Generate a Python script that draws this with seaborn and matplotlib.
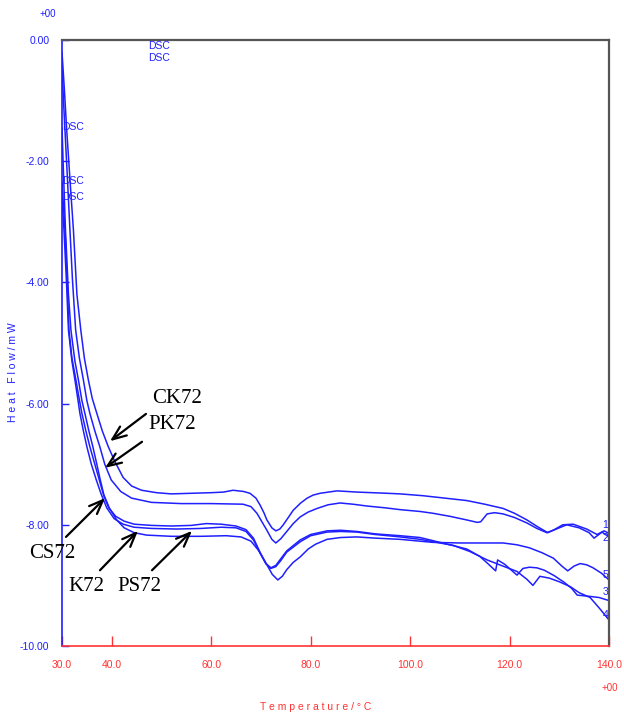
import matplotlib
matplotlib.use("Agg")
import matplotlib.pyplot as plt
import seaborn as sns
import pandas as pd

# ---- data ----
T1 = [30.0, 30.5, 30.95, 31.6, 32.3, 33.0, 33.8, 34.5, 35.3, 36.1, 37.0, 38.1, 39.3, 40.6, 42.3, 44.0, 46.0, 49.0, 52.0, 56.0, 60.0, 62.5, 64.4, 66.5, 67.8, 69.0, 69.8, 70.6, 71.2, 72.2, 73.0, 73.8, 74.5, 75.5, 76.5, 78.0, 79.3, 80.5, 81.9, 85.3, 89.3, 95.4, 98.0, 102.6, 107.0, 111.4, 115.0, 118.7, 121.0, 123.5, 125.8, 127.7, 129.0, 130.7, 132.8, 135.5, 137.6, 139.0, 140.0]
H1 = [-0.20, -0.85, -1.49, -2.30, -3.14, -4.20, -4.80, -5.25, -5.61, -5.92, -6.16, -6.45, -6.71, -6.95, -7.22, -7.36, -7.43, -7.47, -7.49, -7.48, -7.47, -7.46, -7.43, -7.45, -7.48, -7.56, -7.67, -7.80, -7.92, -8.05, -8.10, -8.07, -8.00, -7.88, -7.76, -7.64, -7.56, -7.51, -7.48, -7.44, -7.46, -7.48, -7.49, -7.52, -7.56, -7.60, -7.66, -7.73, -7.81, -7.92, -8.04, -8.13, -8.08, -8.00, -7.99, -8.07, -8.16, -8.10, -8.14]

T2 = [30.0, 30.3, 30.6, 31.1, 31.6, 32.1, 32.75, 33.5, 34.3, 35.0, 35.6, 36.6, 37.6, 38.6, 39.9, 41.8, 44.0, 48.0, 54.0, 60.0, 66.4, 68.0, 69.2, 70.2, 71.2, 72.2, 73.0, 74.0, 75.2, 76.5, 77.9, 79.5, 81.3, 83.5, 85.9, 88.5, 91.3, 95.0, 98.0, 102.0, 104.6, 108.0, 111.4, 113.5, 114.2, 115.5, 117.0, 118.7, 121.0, 123.5, 125.5, 127.5, 128.8, 130.0, 131.5, 134.0, 136.0, 137.0, 138.6, 140.0]
H2 = [-0.40, -1.00, -1.49, -2.30, -3.14, -3.95, -4.79, -5.25, -5.61, -5.95, -6.16, -6.45, -6.71, -7.00, -7.26, -7.45, -7.56, -7.63, -7.65, -7.65, -7.66, -7.70, -7.81, -7.95, -8.09, -8.24, -8.30, -8.23, -8.11, -7.98, -7.87, -7.79, -7.73, -7.67, -7.64, -7.66, -7.69, -7.72, -7.75, -7.78, -7.81, -7.86, -7.92, -7.96, -7.95, -7.82, -7.80, -7.82, -7.88, -7.97, -8.06, -8.13, -8.09, -8.05, -8.00, -8.05, -8.13, -8.22, -8.12, -8.20]

T3 = [30.0, 30.3, 30.6, 31.0, 31.4, 32.0, 32.8, 33.3, 34.0, 34.8, 35.6, 36.6, 37.5, 38.4, 39.4, 40.8, 42.5, 44.5, 48.0, 52.0, 56.0, 59.0, 62.0, 65.0, 67.0, 68.5, 69.8, 71.0, 72.0, 73.0, 74.0, 75.2, 77.9, 80.0, 83.3, 86.0, 89.3, 93.0, 98.0, 102.0, 106.0, 109.0, 111.4, 114.0, 115.5, 117.2, 117.6, 119.0, 121.5, 122.7, 124.0, 125.5, 127.0, 129.0, 131.0, 132.5, 133.6, 136.0, 138.0, 140.0]
H3 = [-2.35, -2.75, -3.14, -3.90, -4.79, -5.25, -5.61, -5.85, -6.16, -6.45, -6.71, -7.00, -7.26, -7.52, -7.72, -7.86, -7.94, -7.99, -8.01, -8.02, -8.01, -7.98, -7.99, -8.02, -8.08, -8.22, -8.45, -8.64, -8.71, -8.67, -8.56, -8.43, -8.25, -8.16, -8.10, -8.09, -8.11, -8.15, -8.18, -8.21, -8.29, -8.35, -8.40, -8.52, -8.63, -8.76, -8.58, -8.65, -8.83, -8.72, -8.70, -8.71, -8.75, -8.84, -8.95, -9.05, -9.16, -9.18, -9.20, -9.25]

T4 = [30.0, 30.4, 30.9, 31.3, 32.0, 32.6, 33.1, 33.6, 34.3, 35.0, 35.9, 36.9, 37.9, 39.0, 40.5, 42.3, 44.5, 48.0, 53.0, 58.0, 62.0, 65.0, 67.0, 68.5, 69.8, 71.0, 72.0, 73.0, 74.0, 75.2, 77.9, 80.0, 83.3, 86.0, 89.3, 93.0, 98.0, 102.0, 106.0, 108.7, 112.0, 115.5, 118.0, 121.5, 123.5, 124.7, 126.1, 128.0, 130.0, 132.2, 134.0, 136.2, 138.0, 140.0]
H4 = [-2.60, -3.14, -4.00, -4.79, -5.30, -5.61, -5.88, -6.16, -6.45, -6.71, -7.00, -7.26, -7.50, -7.72, -7.90, -7.99, -8.04, -8.06, -8.07, -8.06, -8.04, -8.05, -8.11, -8.25, -8.46, -8.64, -8.72, -8.69, -8.59, -8.45, -8.28, -8.18, -8.12, -8.11, -8.12, -8.16, -8.20, -8.24, -8.30, -8.34, -8.44, -8.58, -8.66, -8.77, -8.90, -9.00, -8.85, -8.88, -8.94, -9.02, -9.12, -9.20, -9.37, -9.57]

T5 = [30.0, 30.3, 30.7, 31.3, 31.8, 32.6, 33.3, 34.0, 34.6, 35.4, 36.2, 37.0, 37.7, 38.4, 39.5, 41.0, 42.5, 44.5, 47.0, 52.0, 58.0, 63.0, 66.0, 68.0, 69.5, 71.0, 72.3, 73.4, 74.3, 75.2, 76.5, 77.9, 79.5, 81.0, 83.3, 86.0, 89.3, 93.0, 98.0, 104.6, 110.0, 114.0, 118.7, 121.5, 124.0, 126.5, 128.8, 130.5, 131.7, 133.0, 134.2, 135.5, 136.8, 138.5, 140.0]
H5 = [-1.45, -2.20, -3.14, -4.20, -4.79, -5.30, -5.61, -5.95, -6.16, -6.45, -6.71, -7.00, -7.26, -7.50, -7.72, -7.92, -8.05, -8.13, -8.17, -8.19, -8.19, -8.18, -8.20, -8.27, -8.42, -8.63, -8.82, -8.91, -8.85, -8.74, -8.62, -8.53, -8.40, -8.32, -8.24, -8.21, -8.20, -8.22, -8.24, -8.29, -8.30, -8.30, -8.30, -8.33, -8.38, -8.46, -8.55, -8.68, -8.76, -8.68, -8.64, -8.66, -8.71, -8.80, -8.91]

curve_ids = ["1", "2", "3", "4", "5"]
end_label_y = [-8.00, -8.22, -9.11, -9.49, -8.83]

sample_names = ["CK72", "PK72", "CS72", "K72", "PS72"]
sample_text_xy = [(48.10, -5.92), (47.29, -6.35), (23.36, -8.48), (31.21, -9.01), (41.06, -9.01)]
arrow_tail = [(46.89, -6.17), (46.09, -6.63), (30.80, -8.20), (37.64, -8.75), (48.10, -8.75)]
arrow_head = [(39.65, -6.62), (38.65, -7.06), (38.65, -7.56), (45.28, -8.10), (56.14, -8.10)]

dsc_xy = [(47.3, -0.095), (47.3, -0.30), (30.0, -1.44), (30.0, -2.33), (30.0, -2.59)]

x_ticks = [30, 40, 60, 80, 100, 120, 140]
x_ticklabels = ["30.0", "40.0", "60.0", "80.0", "100.0", "120.0", "140.0"]
y_ticks = [0, -2, -4, -6, -8, -10]
y_ticklabels = ["0.00", "-2.00", "-4.00", "-6.00", "-8.00", "-10.00"]

# ---- build table ----
frames = []
for cid, T, H in zip(curve_ids, [T1, T2, T3, T4, T5], [H1, H2, H3, H4, H5]):
    frames.append(pd.DataFrame({"T": T, "H": H, "curve": cid}))
df = pd.concat(frames, ignore_index=True)

sns.set_style("white")
plt.rcParams["font.family"] = ["Liberation Sans", "DejaVu Sans"]

BLUE = "#1f1fff"
RED = "#ff3333"

fig = plt.figure(figsize=(6.24, 7.16), dpi=100)
ax = fig.add_axes([62 / 624, 1 - 646 / 716, 547 / 624, 606 / 716])

sns.lineplot(data=df, x="T", y="H", hue="curve", units="curve", estimator=None,
             palette=[BLUE] * 5, sort=False, legend=False, lw=1.1, ax=ax)

ax.set_xlim(30, 140)
ax.set_ylim(-10, 0)
ax.set_xticks(x_ticks)
ax.set_xticklabels(x_ticklabels)
ax.set_yticks(y_ticks)
ax.set_yticklabels(y_ticklabels)
ax.set_xlabel("")
ax.set_ylabel("")

ax.tick_params(axis="x", direction="in", length=7, width=1, colors=RED, bottom=True,
               labelsize=7.5, pad=10, labelcolor=RED)
ax.tick_params(axis="y", direction="in", length=5, width=1, colors=BLUE, left=True,
               labelsize=7.5, pad=9, labelcolor=BLUE)

for side in ["top", "right"]:
    ax.spines[side].set_color("#555555")
    ax.spines[side].set_linewidth(1.6)
ax.spines["left"].set_color(BLUE)
ax.spines["left"].set_linewidth(1.2)
ax.spines["bottom"].set_color(RED)
ax.spines["bottom"].set_linewidth(1.2)

# curve end labels
for cid, yv in zip(curve_ids, end_label_y):
    ax.text(139.3, yv, cid, color=BLUE, fontsize=7.5, ha="center", va="center")

# DSC labels
for (xx, yy) in dsc_xy:
    ax.text(xx, yy, "DSC", color=BLUE, fontsize=7.5, ha="left", va="center")

# sample annotations
for name, txy, tail, head in zip(sample_names, sample_text_xy, arrow_tail, arrow_head):
    ax.text(txy[0], txy[1], name, fontsize=15, family=["Liberation Serif", "DejaVu Serif"],
            ha="left", va="center", color="black", clip_on=False)
    ax.annotate("", xy=head, xytext=tail, annotation_clip=False,
                arrowprops=dict(arrowstyle="->,head_length=1.0,head_width=0.4",
                                color="black", lw=1.6, shrinkA=0, shrinkB=0))

# exponent markers and axis titles
fig.text(48 / 624, 1 - 14 / 716, "+00", color=BLUE, fontsize=7, ha="center", va="center")
fig.text(610 / 624, 1 - 688 / 716, "+00", color=RED, fontsize=7, ha="center", va="center")
fig.text(316 / 624, 1 - 707 / 716, "T e m p e r a t u r e / ° C", color=RED,
         fontsize=7.5, ha="center", va="center")
fig.text(13 / 624, 1 - 372 / 716, "H e a t   F l o w / m W", color=BLUE,
         fontsize=7.5, ha="center", va="center", rotation=90)

fig.savefig("out.png", dpi=100)
